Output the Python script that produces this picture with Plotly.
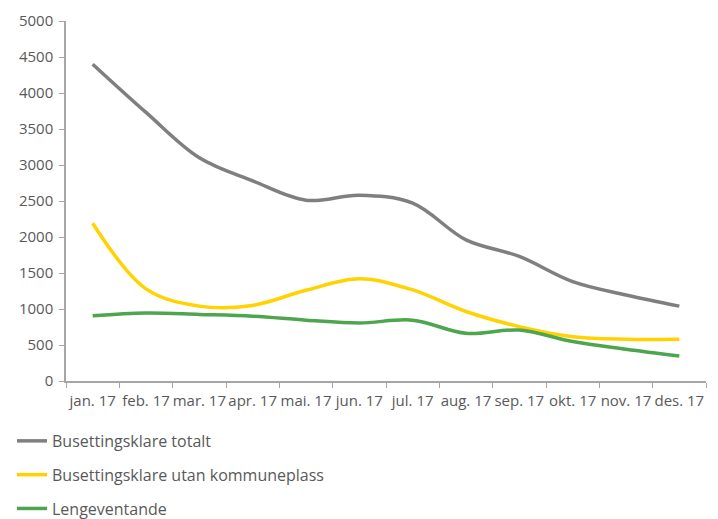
import plotly.graph_objects as go

months = ["jan. 17", "feb. 17", "mar. 17", "apr. 17", "mai. 17", "jun. 17",
          "jul. 17", "aug. 17", "sep. 17", "okt. 17", "nov. 17", "des. 17"]
totalt = [4400, 3730, 3100, 2780, 2510, 2580, 2470, 1960, 1730, 1380, 1195, 1040]
utan_kommuneplass = [2190, 1280, 1040, 1050, 1260, 1420, 1265, 965, 755, 615, 580, 580]
lengeventande = [905, 945, 925, 900, 845, 806, 845, 662, 708, 548, 442, 347]

series = [
    ("Busettingsklare totalt", totalt, "#7F7F7F"),
    ("Busettingsklare utan kommuneplass", utan_kommuneplass, "#FFD200"),
    ("Lengeventande", lengeventande, "#4DA64D"),
]

fig = go.Figure()
for i, (name, vals, col) in enumerate(series):
    fig.add_trace(go.Scatter(
        x=months, y=vals, name=name, mode="lines",
        line=dict(color=col, width=3.5, shape="spline", smoothing=1),
        legendgroup=f"g{i}",
    ))

font_family = "'Open Sans', Lato, sans-serif"
W, H = 710, 511
fig.update_layout(
    width=W, height=H,
    margin=dict(l=58, r=12, t=13, b=138, autoexpand=False),
    paper_bgcolor="white", plot_bgcolor="white",
    font=dict(family=font_family, size=15, color="#595959"),
    showlegend=True,
    legend=dict(
        orientation="v",
        xref="container", yref="container",
        x=4 / W, y=0.186, xanchor="left", yanchor="top",
        font=dict(size=16, color="#595959"),
        tracegroupgap=10,
        itemwidth=30,
    ),
    xaxis=dict(
        type="category", range=[-0.5, 11.5],
        showline=True, linecolor="#A6A6A6", linewidth=1.5,
        ticks="outside", tickson="boundaries", ticklen=5, tickcolor="#A6A6A6",
        showgrid=False, zeroline=False,
        tickangle=0,
        tickfont=dict(size=15, color="#595959"),
        ticklabelstandoff=5,
    ),
    yaxis=dict(
        range=[0, 5000], dtick=500,
        showline=True, linecolor="#A6A6A6", linewidth=1.5,
        ticks="outside", ticklen=5, tickcolor="#A6A6A6",
        showgrid=False, zeroline=False,
        tickfont=dict(size=15, color="#595959"),
        ticklabelstandoff=3,
    ),
)

fig.write_html("out.html")
